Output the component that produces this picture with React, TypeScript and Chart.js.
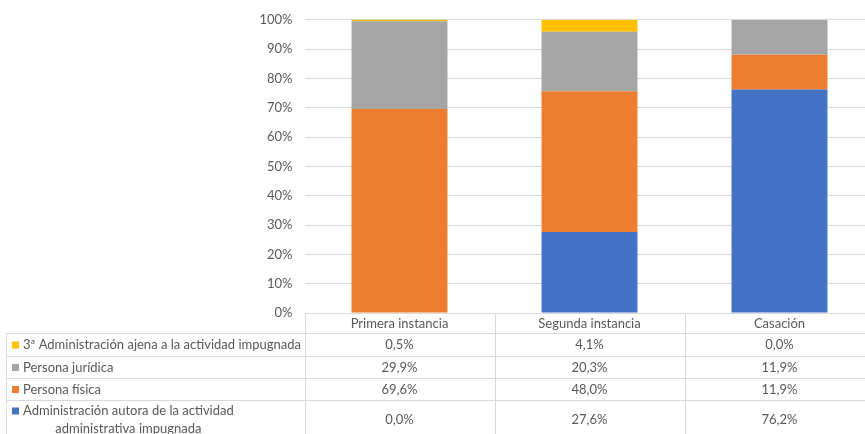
import React, { useEffect, useRef } from "react";
import { Chart, registerables } from "chart.js";

Chart.register(...registerables);

// Instances and party shares (%)
const categories = ["Primera instancia", "Segunda instancia", "Casación"];
const seriesNames = [
  "Administración autora de la actividad administrativa impugnada",
  "Persona física",
  "Persona jurídica",
  "3ª Administración ajena a la actividad impugnada",
];
const administracionAutora = [0.0, 27.6, 76.2];
const personaFisica = [69.6, 48.0, 11.9];
const personaJuridica = [29.9, 20.3, 11.9];
const terceraAdministracion = [0.5, 4.1, 0.0];
const yTicks = [0, 10, 20, 30, 40, 50, 60, 70, 80, 90, 100];

const colors = ["#4472C4", "#ED7D31", "#A5A5A5", "#FFC000"];
const TEXT = "#595959";
const LINE = "#D9D9D9";
const FONT = "Lato, 'Open Sans', sans-serif";

const fmt = (v: number) => v.toFixed(1).replace(".", ",") + "%";

// Data table under the plot, columns aligned with the category axis
const dataTablePlugin = {
  id: "dataTable",
  afterDraw(chart: any) {
    const { ctx, chartArea, scales } = chart;
    const x = scales.x;
    const series = [administracionAutora, personaFisica, personaJuridica, terceraAdministracion];
    const catW = (chartArea.right - chartArea.left) / categories.length;
    const tableLeft = 6.5;
    const top = Math.round(chartArea.bottom) + 0.5;
    const headerH = 20;
    const rowHeights = [23, 22, 22, 38];
    // table rows, top to bottom: yellow, gray, orange, blue
    const order = [3, 2, 1, 0];

    ctx.save();
    ctx.strokeStyle = LINE;
    ctx.lineWidth = 1;
    const right = chart.width + 5;
    const plotLeft = Math.round(chartArea.left) + 0.5;

    // horizontal lines
    let y = top + headerH;
    const rowTops: number[] = [];
    ctx.beginPath();
    for (let i = 0; i < rowHeights.length; i++) {
      rowTops.push(y);
      ctx.moveTo(tableLeft, y);
      ctx.lineTo(right, y);
      y += rowHeights[i];
    }
    ctx.moveTo(tableLeft, y);
    ctx.lineTo(right, y);
    const bottom = y;
    // vertical lines
    ctx.moveTo(tableLeft, top + headerH);
    ctx.lineTo(tableLeft, bottom);
    for (let i = 0; i <= categories.length; i++) {
      const cx = Math.round(chartArea.left + i * catW) + 0.5;
      ctx.moveTo(cx, top);
      ctx.lineTo(cx, bottom);
    }
    ctx.moveTo(plotLeft, top);
    ctx.lineTo(plotLeft, bottom);
    ctx.stroke();

    ctx.font = `13px ${FONT}`;
    ctx.fillStyle = TEXT;
    ctx.textBaseline = "middle";
    ctx.textAlign = "center";

    // header
    categories.forEach((c, i) => {
      ctx.fillText(c, x.getPixelForValue(i), top + headerH / 2);
    });

    // rows
    order.forEach((si, r) => {
      const rt = rowTops[r];
      const rh = rowHeights[r];
      const cy = rt + rh / 2;
      // legend key
      ctx.fillStyle = colors[si];
      const keyY = r === 3 ? rt + 7 : cy - 3.5;
      ctx.fillRect(12, keyY, 7, 7);
      ctx.fillStyle = TEXT;
      ctx.textAlign = "left";
      if (si === 0) {
        const l1 = "Administración autora de la actividad";
        const l2 = "administrativa impugnada";
        ctx.fillText(l1, 23, rt + 10.5);
        const w1 = ctx.measureText(l1).width;
        ctx.textAlign = "center";
        ctx.fillText(l2, 23 + w1 / 2, rt + 28);
      } else {
        ctx.fillText(seriesNames[si], 23, cy);
      }
      ctx.textAlign = "center";
      const vy = si === 0 ? rt + 19 : cy;
      series[si].forEach((v, i) => {
        ctx.fillText(fmt(v), x.getPixelForValue(i), vy);
      });
    });
    ctx.restore();
  },
};

export default function App() {
  const ref = useRef<HTMLCanvasElement | null>(null);

  useEffect(() => {
    if (!ref.current) return;
    const data = [administracionAutora, personaFisica, personaJuridica, terceraAdministracion];
    const chart = new Chart(ref.current, {
      type: "bar",
      data: {
        labels: categories,
        datasets: data.map((d, i) => ({
          label: seriesNames[i],
          data: d,
          backgroundColor: colors[i],
          borderWidth: 0,
          barPercentage: 1,
          categoryPercentage: 0.505,
        })),
      },
      options: {
        responsive: false,
        animation: false,
        devicePixelRatio: 1,
        layout: { padding: { left: 244.5, right: 5.5, top: 19, bottom: 127 } },
        plugins: { legend: { display: false }, tooltip: { enabled: false } },
        scales: {
          x: { stacked: true, display: false },
          y: {
            stacked: true,
            min: 0,
            max: 100,
            afterFit: (s: any) => {
              s.width = 60;
            },
            afterBuildTicks: (s: any) => {
              s.ticks = yTicks.map((v) => ({ value: v }));
            },
            border: { display: false },
            grid: { color: LINE, lineWidth: 1, drawTicks: false },
            ticks: {
              padding: 12,
              color: TEXT,
              font: { family: FONT, size: 13 },
              callback: (v: any) => v + "%",
            },
          },
        },
      },
      plugins: [dataTablePlugin],
    });
    return () => chart.destroy();
  }, []);

  return (
    <div
      style={{
        position: "fixed",
        left: 0,
        top: 0,
        width: 865,
        height: 434,
        overflow: "hidden",
        background: "#fff",
      }}
    >
      <canvas ref={ref} width={880} height={440} style={{ display: "block" }} />
    </div>
  );
}
